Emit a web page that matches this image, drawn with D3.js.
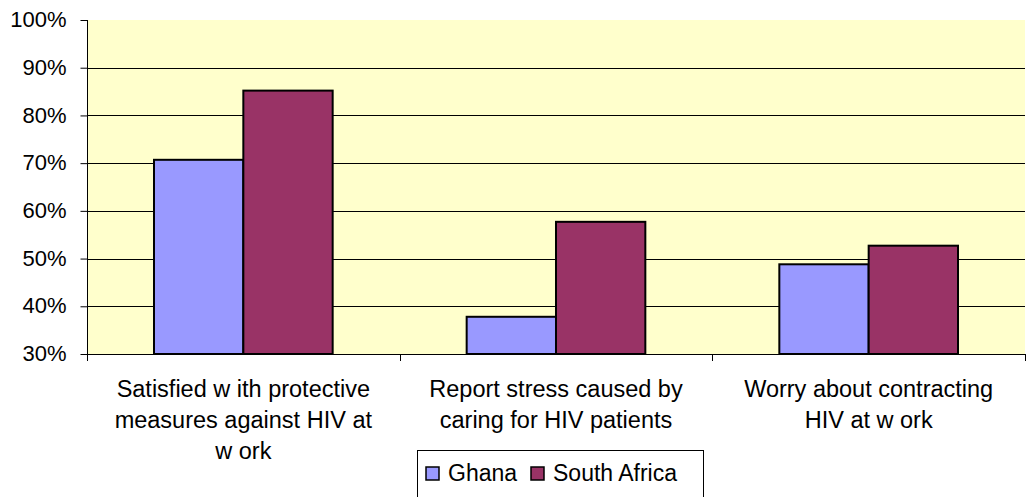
<!DOCTYPE html>
<html>
<head>
<meta charset="utf-8">
<script src="https://cdn.jsdelivr.net/npm/d3@7"></script>
<style>
  body { margin: 0; background: #fff; }
  text { font-family: "Liberation Sans", Arial, sans-serif; fill: #000; }
</style>
</head>
<body>
<div id="chart"></div>
<script>
// data
const categories = ["satisfied", "stress", "worry"]
const categoryLines = [
    ["Satisfied w ith protective", "measures against HIV at", "w ork"],
    ["Report stress caused by", "caring for HIV patients"],
    ["Worry about contracting", "HIV at w ork"]
]
const seriesNames = ["Ghana", "South Africa"]
const ghana = [70.7, 37.8, 48.8]
const southAfrica = [85.2, 57.7, 52.7]
const yTicks = [30, 40, 50, 60, 70, 80, 90, 100]

const colors = {"Ghana": "#9999FF", "South Africa": "#993366"}

const width = 1026, height = 497
const plot = {left: 87, right: 1025, top: 20, bottom: 354}

const svg = d3.select("#chart")
    .append("svg")
    .attr("width", width)
    .attr("height", height)

const x0 = d3.scaleBand()
    .domain(categories)
    .range([plot.left, plot.right])

const x1 = d3.scaleBand()
    .domain(seriesNames)
    .range([0, x0.bandwidth()])
    .paddingInner(0)
    .paddingOuter(0.75)

const y = d3.scaleLinear()
    .domain([30, 100])
    .range([plot.bottom, plot.top])

// plot background
svg.append("rect")
    .attr("x", plot.left)
    .attr("y", plot.top)
    .attr("width", plot.right - plot.left)
    .attr("height", plot.bottom - plot.top)
    .attr("fill", "#FFFFCC")

// gridlines
svg.append("g")
    .selectAll("line")
    .data(yTicks.filter(d => d > 30 && d < 100))
    .enter()
    .append("line")
    .attr("x1", plot.left)
    .attr("x2", plot.right)
    .attr("y1", d => Math.round(y(d)) + 0.5)
    .attr("y2", d => Math.round(y(d)) + 0.5)
    .attr("stroke", "#000")
    .attr("stroke-width", 1)

// y axis
const yAxis = svg.append("g")
    .attr("transform", "translate(" + (plot.left + 0.5) + ",0)")
    .call(d3.axisLeft(y).tickValues(yTicks).tickSize(7).tickPadding(14).tickFormat(d => d + "%"))
yAxis.select(".domain").remove()
yAxis.selectAll(".tick line").attr("stroke", "#000")
yAxis.selectAll(".tick text")
    .style("font-size", "22px")
    .style("font-family", "'Liberation Sans', Arial, sans-serif")
    .attr("fill", "#000")
    .attr("dy", "0.3em")

// bars
const rows = categories.map((c, i) => ({cat: c, values: [
    {name: "Ghana", value: ghana[i]},
    {name: "South Africa", value: southAfrica[i]}
]}))

svg.append("g")
    .selectAll("g")
    .data(rows)
    .enter()
    .append("g")
    .attr("transform", d => "translate(" + x0(d.cat) + ",0)")
    .selectAll("rect")
    .data(d => d.values)
    .enter()
    .append("rect")
    .attr("x", d => x1(d.name))
    .attr("y", d => y(d.value))
    .attr("width", x1.bandwidth())
    .attr("height", d => y(30) - y(d.value))
    .attr("fill", d => colors[d.name])
    .attr("stroke", "#000")
    .attr("stroke-width", 2)

// axis lines
svg.append("line")
    .attr("x1", plot.left + 0.5).attr("x2", plot.left + 0.5)
    .attr("y1", plot.top).attr("y2", plot.bottom + 7)
    .attr("stroke", "#000")
svg.append("line")
    .attr("x1", plot.left).attr("x2", plot.right)
    .attr("y1", plot.bottom + 0.5).attr("y2", plot.bottom + 0.5)
    .attr("stroke", "#000")

// category ticks
const boundaries = categories.map(c => x0(c)).concat([plot.right])
svg.append("g")
    .selectAll("line")
    .data(boundaries)
    .enter()
    .append("line")
    .attr("x1", d => Math.round(d) + 0.5)
    .attr("x2", d => Math.round(d) + 0.5)
    .attr("y1", plot.bottom)
    .attr("y2", plot.bottom + 7)
    .attr("stroke", "#000")

// category labels
svg.append("g")
    .selectAll("text")
    .data(categories)
    .enter()
    .append("text")
    .attr("text-anchor", "middle")
    .style("font-size", "23.5px")
    .each(function (d, i) {
        const cx = x0(d) + x0.bandwidth() / 2
        d3.select(this).selectAll("tspan")
            .data(categoryLines[i])
            .enter()
            .append("tspan")
            .attr("x", cx)
            .attr("y", (l, j) => 397 + j * 31)
            .text(l => l)
    })

// legend
const legend = svg.append("g")
legend.append("rect")
    .attr("x", 417.5)
    .attr("y", 450.5)
    .attr("width", 286)
    .attr("height", 50)
    .attr("fill", "#fff")
    .attr("stroke", "#000")

const legendX = [426, 531]
const legendItems = legend.selectAll("g.item")
    .data(seriesNames)
    .enter()
    .append("g")
    .attr("class", "item")
    .attr("transform", (d, i) => "translate(" + legendX[i] + ",0)")
legendItems.append("rect")
    .attr("x", 0)
    .attr("y", 467)
    .attr("width", 13)
    .attr("height", 13)
    .attr("fill", d => colors[d])
    .attr("stroke", "#000")
    .attr("stroke-width", 1.5)
legendItems.append("text")
    .attr("x", 22)
    .attr("y", 481)
    .style("font-size", "23px")
    .text(d => d)
</script>
</body>
</html>
